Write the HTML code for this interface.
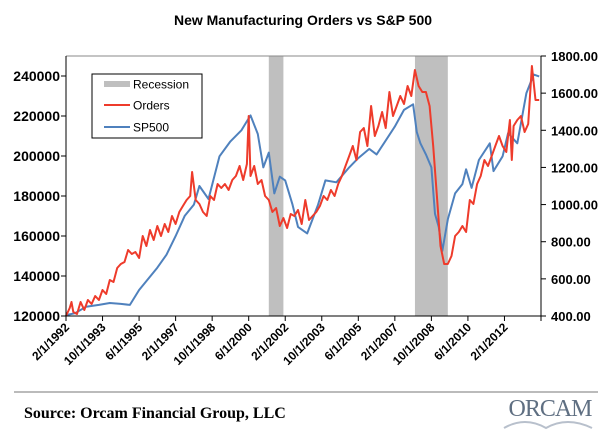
<!DOCTYPE html>
<html><head><meta charset="utf-8"><style>
html,body{margin:0;padding:0;background:#fff;}
svg{display:block;font-family:"Liberation Sans",Arial,sans-serif;}
</style></head><body>
<svg id="chart" width="608" height="432" viewBox="0 0 608 432" xmlns="http://www.w3.org/2000/svg">
<text x="303" y="25" text-anchor="middle" font-size="14" font-weight="bold">New Manufacturing Orders vs S&amp;P 500</text>
<g id="plot"></g>
<line x1="14" y1="392" x2="598" y2="392" stroke="#777" stroke-width="1"/>
<text x="24" y="418" font-family="Liberation Serif,serif" font-size="16" font-weight="bold">Source: Orcam Financial Group, LLC</text>
<text x="550" y="416" text-anchor="middle" font-family="Liberation Serif,serif" font-size="24" fill="#5f6f82" letter-spacing="-1">ORCAM</text>
<path d="M504 428 Q525 416 546 428 Q567 416 592 428" fill="none" stroke="#b8c0cc" stroke-width="2"/>
</svg>
<script>
const orderMonths=[0,2,3,4,6,8,10,12,14,16,18,20,22,24,26,28,30,32,34,36,38,40,42,44,46,48,50,52,54,56,58,60,62,64,66,68,69,71,73,75,77,79,81,83,85,87,89,91,93,95,97,99,100,101,103,105,107,109,111,113,115,117,119,121,123,125,127,129,131,133,135,137,139,141,143,145,147,149,151,153,155,157,159,161,163,165,167,169,171,173,175,177,179,181,183,185,187,189,191,193,195,197,199,201,203,205,207,209,211,213,215,217,219,221,223,225,227,229,231,233,235,237,239,241,243,244,245,247,249,251,253,255,257,259];
const orderValues=[120,124,127,122,121,127,123,128,126,130,128,133,131,138,137,144,146,147,153,151,152,149,160,155,163,158,165,160,166,162,170,166,172,175,178,180,192,178,176,172,170,180,178,186,184,186,183,188,190,195,188,196,220,190,195,186,188,180,178,172,174,165,169,164,171,170,173,166,178,168,170,172,175,180,178,183,180,186,190,195,200,205,198,212,214,205,225,210,215,222,214,232,220,225,230,226,235,230,243,235,232,232,225,205,180,155,146,146,150,160,162,165,162,178,176,186,190,198,195,200,205,210,205,202,218,198,215,218,220,212,216,245,228,228].map(v=>v*1000);
const spMonths=[0,5,11,18,24,30,35,40,45,50,55,60,65,70,73,78,84,90,96,101,105,108,111,114,117,120,124,127,132,138,142,148,155,160,166,170,174,180,185,190,192,194,197,200,202,204,206,209,213,217,219,222,226,232,234,239,242,247,252,256,259];
const spValues=[405,415,450,460,470,465,460,540,600,660,730,830,940,1000,1100,1030,1260,1340,1400,1480,1380,1200,1280,1060,1150,1130,1000,880,845,1000,1130,1120,1200,1250,1300,1270,1330,1420,1510,1540,1390,1330,1270,1200,950,880,750,920,1060,1110,1190,1090,1240,1330,1180,1260,1385,1330,1600,1700,1690];
const leftTicks=[120000,140000,160000,180000,200000,220000,240000];
const rightTicks=[400,600,800,1000,1200,1400,1600,1800];
const xTickMonths=[0,20,40,60,80,100,120,140,160,180,200,220,240,260];
const xTickLabels=["2/1/1992","10/1/1993","6/1/1995","2/1/1997","10/1/1998","6/1/2000","2/1/2002","10/1/2003","6/1/2005","2/1/2007","10/1/2008","6/1/2010","2/1/2012",""];
const recessionStarts=[111,191];
const recessionEnds=[119,209];

const L=66,R=541,T=56,B=316;
const x=m=>L+m*(R-L)/260;
const yL=v=>B-(v-120000)*(B-T)/130000;
const yR=v=>B-(v-400)*(B-T)/1400;
const NS="http://www.w3.org/2000/svg";
const g=document.getElementById('plot');
function mk(t,a){const e=document.createElementNS(NS,t);for(const k in a)e.setAttribute(k,a[k]);g.appendChild(e);return e;}

for(let i=0;i<recessionStarts.length;i++){
 const r=mk('rect',{x:x(recessionStarts[i]),y:T,width:x(recessionEnds[i])-x(recessionStarts[i]),height:B-T,fill:'#bfbfbf'});
 
 
}
const topBorder=mk('line',{x1:L,y1:T,x2:R,y2:T,stroke:'#888','stroke-width':1});



function path(ms,vs,fy,col,name){
 let d='';ms.forEach((m,i)=>{d+=(i?'L':'M')+x(m).toFixed(1)+' '+fy(vs[i]).toFixed(1);});
 const p=mk('path',{d:d,fill:'none',stroke:col,'stroke-width':2,'stroke-linejoin':'round'});
 
 
}
path(spMonths,spValues,yR,'#4f81bd','sp500-line');
path(orderMonths,orderValues,yL,'#ee3b2b','orders-line');

const ax=mk('path',{d:`M${L} ${T}V${B}H${R}V${T}`,fill:'none',stroke:'#000','stroke-width':1});


leftTicks.forEach(v=>{
 mk('line',{x1:L-5,y1:yL(v),x2:L,y2:yL(v),stroke:'#000'});
 const t=mk('text',{x:L-6,y:yL(v)+5,'text-anchor':'end','font-size':14,'font-weight':'bold'});t.textContent=v;
 
 
});
rightTicks.forEach(v=>{
 mk('line',{x1:R,y1:yR(v),x2:R+5,y2:yR(v),stroke:'#000'});
 const t=mk('text',{x:R+10,y:yR(v)+5,'font-size':13,'font-weight':'bold'});t.textContent=v.toFixed(2);
 
 
});
xTickMonths.forEach((m,i)=>{
 mk('line',{x1:x(m),y1:B,x2:x(m),y2:B+5,stroke:'#000'});
 if(!xTickLabels[i])return;
 const t=mk('text',{x:x(m)+4,y:B+12,'text-anchor':'end','font-size':12,'font-weight':'bold',transform:`rotate(-45 ${x(m)+4} ${B+12})`});t.textContent=xTickLabels[i];
 
 
});

const lg=mk('rect',{x:92,y:74,width:110,height:64,fill:'#fff',stroke:'#000'});


[['Recession','#bfbfbf',6,84,'legend-recession'],['Orders','#ee3b2b',2,105,'legend-orders'],['SP500','#4f81bd',2,127,'legend-sp500']].forEach(e=>{
 mk('line',{x1:104,y1:e[3],x2:130,y2:e[3],stroke:e[1],'stroke-width':e[2]});
 const t=mk('text',{x:133,y:e[3]+4.5,'font-size':12});t.textContent=e[0];
 
 
});
</script>
</body></html>
